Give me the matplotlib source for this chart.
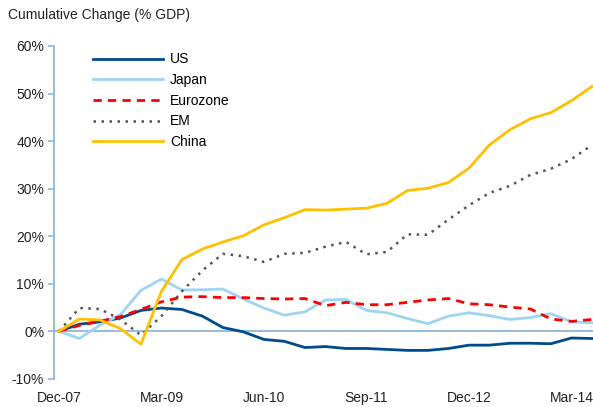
import numpy as np
import matplotlib
matplotlib.use("Agg")
import matplotlib.pyplot as plt

plt.rcParams['font.family'] = ['Liberation Sans Narrow', 'Liberation Sans', 'DejaVu Sans']

# quarterly, Dec-07 .. Jun-14, cumulative change in % of GDP
us = [0, 1.5, 2.0, 2.8, 4.4, 4.9, 4.6, 3.2, 0.8, -0.1, -1.7, -2.1, -3.4, -3.2,
      -3.6, -3.6, -3.8, -4.0, -4.0, -3.6, -2.9, -2.9, -2.5, -2.5, -2.6, -1.4, -1.5]
japan = [0, -1.5, 1.3, 3.5, 8.6, 11.0, 8.7, 8.75, 8.9, 6.8, 4.9, 3.4, 4.1, 6.6,
         6.7, 4.4, 3.9, 2.7, 1.6, 3.2, 3.9, 3.3, 2.5, 2.9, 3.7, 2.0, 1.8]
eurozone = [0, 1.25, 2.1, 3.1, 4.6, 6.2, 7.2, 7.3, 7.1, 7.1, 6.9, 6.8, 6.9, 5.4,
            6.1, 5.6, 5.6, 6.1, 6.6, 6.9, 5.8, 5.6, 5.1, 4.7, 2.6, 2.1, 2.5]
em = [0, 4.9, 4.7, 2.5, -0.8, 3.2, 8.4, 12.8, 16.3, 15.8, 14.6, 16.3, 16.5, 17.8,
      18.8, 16.2, 16.7, 20.4, 20.3, 23.5, 26.5, 29.1, 30.6, 32.9, 34.2, 36.2, 39.2]
china = [0, 2.6, 2.4, 0.6, -2.7, 8.4, 15.1, 17.3, 18.8, 20.1, 22.4, 23.9, 25.6, 25.5,
         25.7, 25.9, 26.9, 29.6, 30.1, 31.3, 34.3, 39.2, 42.4, 44.7, 46.0, 48.5, 51.5]

tick_pos = [0, 5, 10, 15, 20, 25]
tick_labels = ['Dec-07', 'Mar-09', 'Jun-10', 'Sep-11', 'Dec-12', 'Mar-14']
y_ticks = [-10, 0, 10, 20, 30, 40, 50, 60]

axis_col = '#8db8dc'

fig = plt.figure(figsize=(5.93, 4.07), dpi=100)
ax = fig.add_axes([0.091, 0.069, 0.909, 0.818])

x = np.arange(len(us))
ax.axhline(0, color=axis_col, lw=1.3, zorder=1)
ax.plot(x, us, color='#004b8d', lw=2.0, label='US')
ax.plot(x, japan, color='#9fd4f2', lw=2.0, label='Japan')
ax.plot(x, eurozone, color='#ff0000', lw=2.0, ls=(0, (3, 2.2)), label='Eurozone')
ax.plot(x, em, color='#555555', lw=1.8, ls=(0, (1, 2.2)), label='EM')
ax.plot(x, china, color='#ffc000', lw=2.0, label='China')

ax.set_xlim(-0.24, 26.05)
ax.set_ylim(-10, 60)
ax.set_yticks(y_ticks)
ax.set_yticklabels([f'{v}%' for v in y_ticks], fontsize=10, color='#222222')
ax.set_xticks(tick_pos)
ax.set_xticklabels(tick_labels, fontsize=10, color='#222222')
ax.tick_params(axis='x', length=0, pad=9)
ax.tick_params(axis='y', length=4, color=axis_col, width=1.2, pad=3)

for s in ['top', 'right', 'bottom']:
    ax.spines[s].set_visible(False)
ax.spines['left'].set_color(axis_col)
ax.spines['left'].set_linewidth(1.3)

ax.legend(loc='upper left', bbox_to_anchor=(0.05, 1.018), frameon=False,
          fontsize=10, handlelength=5.0, handletextpad=0.5, labelspacing=0.48)

fig.text(0.013, 0.963, 'Cumulative Change (% GDP)', fontsize=10, color='#222222',
         va='center', ha='left')

fig.savefig('out.png', dpi=100)
